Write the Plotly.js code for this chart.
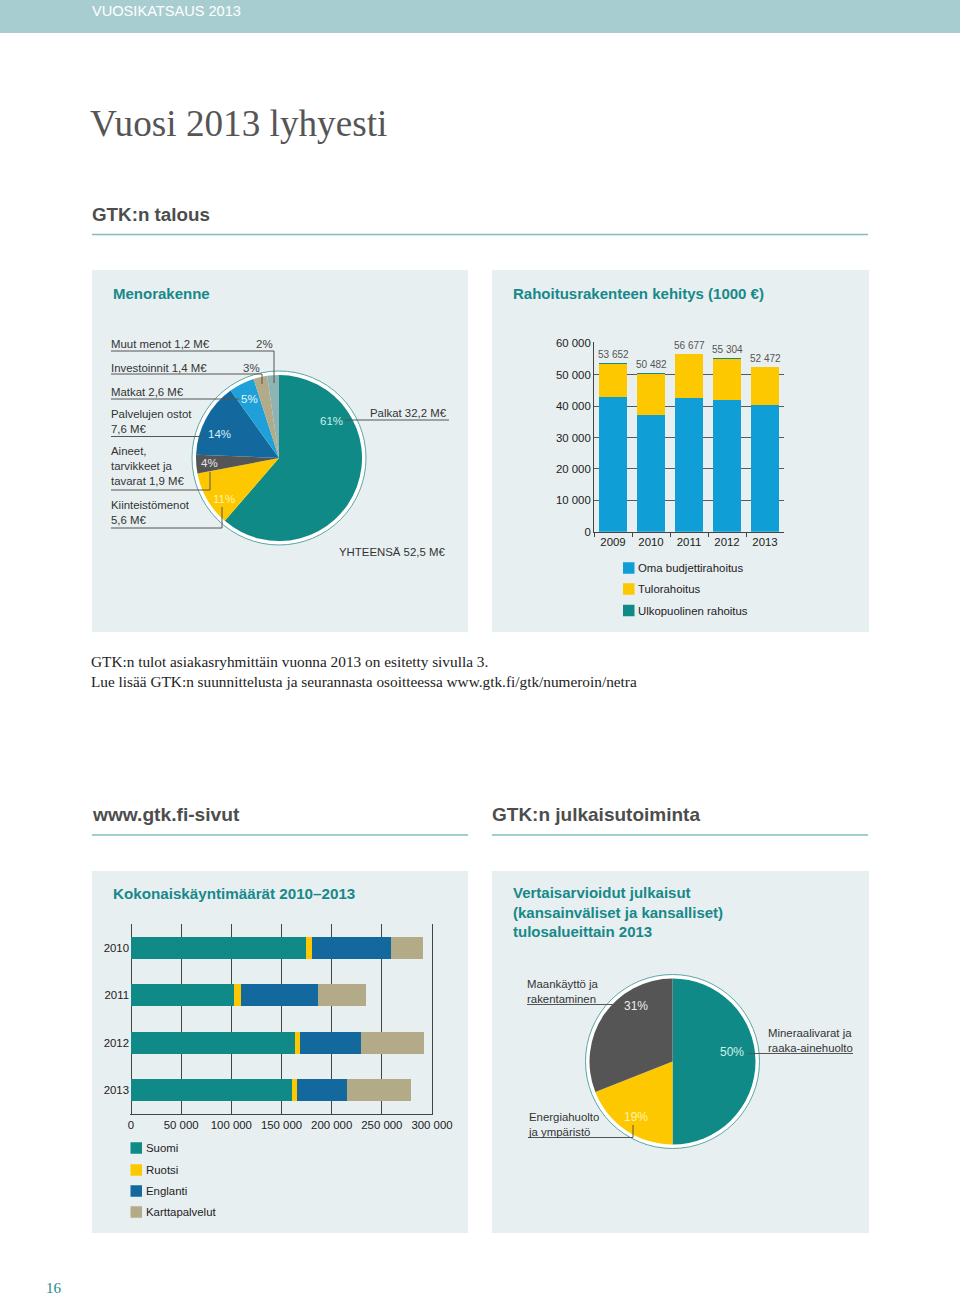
<!DOCTYPE html>
<html><head><meta charset="utf-8">
<script src="https://cdn.plot.ly/plotly-3.0.1.min.js"></script>
<style>html,body{margin:0;padding:0;background:#fff}#chart{width:960px;height:1295px}</style>
</head><body><div id="chart"></div>
<script>
// ---------- DATA ----------
const years1 = ['2009', '2010', '2011', '2012', '2013'];
const omaBudjetti = [42800, 37050, 42450, 41950, 40350];
const tulorahoitus = [10550, 13280, 14050, 13150, 11970];
const ulkopuolinen = [302, 152, 177, 204, 152];
const totals1 = [53652, 50482, 56677, 55304, 52472];
const series1Names = ['Oma budjettirahoitus', 'Tulorahoitus', 'Ulkopuolinen rahoitus'];

const years2 = ['2010', '2011', '2012', '2013'];
const suomi = [174000, 103000, 163800, 160800];
const ruotsi = [6500, 6300, 4650, 4300];
const englanti = [79000, 76700, 61100, 50200];
const karttapalvelut = [31500, 48200, 62500, 63500];
const series2Names = ['Suomi', 'Ruotsi', 'Englanti', 'Karttapalvelut'];

const menoLabels = ['Palkat 32,2 M€', 'Kiinteistömenot<br>5,6 M€', 'Aineet,<br>tarvikkeet ja<br>tavarat 1,9 M€',
  'Palvelujen ostot<br>7,6 M€', 'Matkat 2,6 M€', 'Investoinnit 1,4 M€', 'Muut menot 1,2 M€'];
const menoValues = [32.2, 5.6, 1.9, 7.6, 2.6, 1.4, 1.2];
const menoPct = ['61%', '11%', '4%', '14%', '5%', '3%', '2%'];
const menoTotal = 'YHTEENSÄ 52,5 M€';

const julkLabels = ['Mineraalivarat ja<br>raaka-ainehuolto', 'Energiahuolto<br>ja ympäristö', 'Maankäyttö ja<br>rakentaminen'];
const julkValues = [50, 19, 31];
const julkPct = ['50%', '19%', '31%'];

// ---------- STYLE ----------
const W = 960, H = 1295;
const X = p => p / W;
const Y = p => 1 - p / H;
const TEAL = '#0f8a86', YEL = '#fdc800', BLUE = '#0f9fd6', DBLUE = '#13699d',
      LBLUE = '#1fa0d8', GRAY = '#555555', TAN = '#b3ab88', MUUT = '#8db3b5';
const TITLE_TEAL = '#17898a';
const SANS = 'Liberation Sans, Arial, sans-serif';
const SERIF = 'Liberation Serif, Times New Roman, serif';
const fmt = n => String(n).replace(/\B(?=(\d{3})+(?!\d))/g, ' ');

const traces = [];
// Chart 1: Rahoitusrakenne
const c1 = [omaBudjetti, tulorahoitus, ulkopuolinen];
const c1col = [BLUE, YEL, TEAL];
c1.forEach((v, i) => traces.push({
  type: 'bar', x: years1, y: v, name: series1Names[i], marker: {color: c1col[i]},
  xaxis: 'x', yaxis: 'y', showlegend: false
}));
// Chart 2: Kokonaiskäyntimäärät
const c2 = [suomi, ruotsi, englanti, karttapalvelut];
const c2col = [TEAL, YEL, DBLUE, TAN];
c2.forEach((v, i) => traces.push({
  type: 'bar', orientation: 'h', x: v, y: years2, name: series2Names[i], marker: {color: c2col[i]},
  xaxis: 'x2', yaxis: 'y2', showlegend: false, width: 0.47
}));
// Pie 1
const r = 83;
traces.push({
  type: 'pie', labels: menoLabels, values: menoValues, sort: false, direction: 'clockwise', rotation: 0,
  marker: {colors: [TEAL, YEL, GRAY, DBLUE, LBLUE, TAN, MUUT], line: {width: 0}},
  textinfo: 'none', showlegend: false,
  domain: {x: [X(279 - r), X(279 + r)], y: [Y(458 + r), Y(458 - r)]}
});
// Pie 2
traces.push({
  type: 'pie', labels: julkLabels, values: julkValues, sort: false, direction: 'clockwise', rotation: 0,
  marker: {colors: [TEAL, YEL, GRAY], line: {width: 0}},
  textinfo: 'none', showlegend: false,
  domain: {x: [X(672.5 - r), X(672.5 + r)], y: [Y(1061.5 + r), Y(1061.5 - r)]}
});

// ---------- SHAPES ----------
const shapes = [];
const rect = (x0, y0, x1, y1, c) => shapes.push({type: 'rect', xref: 'paper', yref: 'paper', layer: 'below',
  x0: X(x0), x1: X(x1), y0: Y(y0), y1: Y(y1), fillcolor: c, line: {width: 0}});
const line = (x0, y0, x1, y1, c, w) => shapes.push({type: 'line', xref: 'paper', yref: 'paper',
  x0: X(x0), x1: X(x1), y0: Y(y0), y1: Y(y1), line: {color: c, width: w}});
const circ = (cx, cy, rr) => shapes.push({type: 'circle', xref: 'paper', yref: 'paper', layer: 'below',
  x0: X(cx - rr), x1: X(cx + rr), y0: Y(cy + rr), y1: Y(cy - rr), fillcolor: '#ffffff', line: {color: '#5ea5a6', width: 1}});

rect(0, 0, 960, 33, '#a8cdd1');
const PBG = '#e8eff1';
rect(92, 270, 468, 632, PBG);
rect(492, 270, 869, 632, PBG);
rect(92, 871, 468, 1233, PBG);
rect(492, 871, 869, 1233, PBG);
const RULE = '#86bcbe';
line(92, 234.5, 868, 234.5, RULE, 1.5);
line(92, 835, 468, 835, RULE, 1.5);
line(492, 835, 868, 835, RULE, 1.5);
circ(279, 458, 87);
circ(672.5, 1061.5, 87);

// leader lines pie 1
const LC = '#555';
line(111, 351, 274, 351, LC, 1); line(274, 351, 274, 383, LC, 1);
line(111, 374, 262, 374, LC, 1); line(262, 374, 262, 384, LC, 1);
line(111, 399, 239, 399, LC, 1);
line(111, 436.5, 204, 436.5, LC, 1);
line(111, 490, 210, 490, LC, 1); line(210, 490, 210, 472, LC, 1);
line(111, 528, 222, 528, LC, 1); line(222, 528, 222, 507, LC, 1);
line(345, 420, 449, 420, LC, 1);
// leader lines pie 2
line(527, 1004.5, 621, 1004.5, LC, 1);
line(748, 1053.5, 853, 1053.5, LC, 1);
line(528, 1137.5, 633, 1137.5, LC, 1); line(633, 1137.5, 633, 1125, LC, 1);

// manual legends
const legSq = (x, y, c) => shapes.push({type: 'rect', xref: 'paper', yref: 'paper',
  x0: X(x), x1: X(x + 11.5), y0: Y(y + 5.75), y1: Y(y - 5.75), fillcolor: c, line: {width: 0}});
const leg1Y = [568, 589, 610.5];
leg1Y.forEach((y, i) => legSq(623, y, c1col[i]));
const leg2Y = [1148, 1170, 1191, 1212];
leg2Y.forEach((y, i) => legSq(130.5, y, c2col[i]));

// ---------- ANNOTATIONS ----------
const ann = [];
const txt = (t, x, y, o = {}) => ann.push(Object.assign({
  text: t, xref: 'paper', yref: 'paper', x: X(x), y: Y(y), xanchor: 'left', yanchor: 'middle',
  showarrow: false, align: 'left'
}, o, {font: Object.assign({family: SANS, size: 11.4, color: '#333'}, o.font || {})}));

txt('VUOSIKATSAUS 2013', 90, 11, {font: {size: 14.6, color: '#ffffff'}});
txt('Vuosi 2013 lyhyesti', 88, 124, {font: {family: SERIF, size: 37.2, color: '#555'}});
txt('<b>GTK:n talous</b>', 90, 214, {font: {size: 18.8, color: '#4d4d4d'}});
txt('<b>Menorakenne</b>', 111, 293, {font: {size: 15, color: TITLE_TEAL}});
txt('<b>Rahoitusrakenteen kehitys (1000 €)</b>', 511, 293, {font: {size: 15, color: TITLE_TEAL}});
txt('GTK:n tulot asiakasryhmittäin vuonna 2013 on esitetty sivulla 3.', 89, 661, {font: {family: SERIF, size: 15.3, color: '#222'}});
txt('Lue lisää GTK:n suunnittelusta ja seurannasta osoitteessa www.gtk.fi/gtk/numeroin/netra', 89, 681, {font: {family: SERIF, size: 15.3, color: '#222'}});
txt('<b>www.gtk.fi-sivut</b>', 90, 814, {font: {size: 19.2, color: '#4d4d4d'}});
txt('<b>GTK:n julkaisutoiminta</b>', 490, 814, {font: {size: 19, color: '#4d4d4d'}});
txt('<b>Kokonaiskäyntimäärät 2010–2013</b>', 111, 893, {font: {size: 15.2, color: TITLE_TEAL}});
txt('<b>Vertaisarvioidut julkaisut<br>(kansainväliset ja kansalliset)<br>tulosalueittain 2013</b>', 511, 912, {font: {size: 15, color: TITLE_TEAL}});
txt('16', 44, 1288, {font: {family: SERIF, size: 15, color: '#1a8a88'}});

// pie 1 labels
const menoLabPos = [[368, 413], [109, 512.5], [109, 465.5], [109, 421], [109, 392], [109, 368], [109, 344]];
menoLabels.forEach((t, i) => txt(t, menoLabPos[i][0], menoLabPos[i][1]));
txt(menoTotal, 447, 552, {xanchor: 'right'});
const menoPctPos = [[331, 421], [224, 499], [209, 463], [219, 434], [249, 399], [251, 368], [264, 344]];
const menoPctCol = ['#cdeeea', '#fff3b0', '#e6e6e6', '#d6ecf7', '#e4f5fc', '#444', '#444'];
menoPct.forEach((t, i) => txt(t, menoPctPos[i][0], menoPctPos[i][1], {xanchor: 'center', font: {size: 11.5, color: menoPctCol[i]}}));

// pie 2 labels
const julkLabPos = [[766, 1040], [526, 1124], [525, 991]];
julkLabels.forEach((t, i) => txt(t, julkLabPos[i][0], julkLabPos[i][1]));
const julkPctPos = [[732, 1052], [636, 1117], [636, 1006]];
const julkPctCol = ['#d4f1ee', '#fff3b0', '#ececec'];
julkPct.forEach((t, i) => txt(t, julkPctPos[i][0], julkPctPos[i][1], {xanchor: 'center', font: {size: 12, color: julkPctCol[i]}}));

// legends text
series1Names.forEach((t, i) => txt(t, 636, leg1Y[i], {font: {color: '#222'}}));
series2Names.forEach((t, i) => txt(t, 144, leg2Y[i], {font: {color: '#222'}}));

// bar totals (x given as category index)
years1.forEach((yr, i) => ann.push({
  text: fmt(totals1[i]), xref: 'x', yref: 'y', x: i, y: totals1[i], yanchor: 'bottom', yshift: 1,
  showarrow: false, font: {family: SANS, size: 10, color: '#555'}
}));

const layout = {
  width: W, height: H, margin: {l: 0, r: 0, t: 0, b: 0},
  paper_bgcolor: '#ffffff', plot_bgcolor: 'rgba(0,0,0,0)',
  separators: ', ', barmode: 'stack', showlegend: false,
  font: {family: SANS, size: 11, color: '#222'},
  xaxis: {domain: [X(594), X(784)], anchor: 'y', type: 'category', categoryorder: 'array', categoryarray: years1,
    range: [-0.5, 4.5], autorange: false, showline: true, linecolor: '#444', linewidth: 1,
    ticks: 'outside', tickson: 'boundaries', ticklen: 4, tickcolor: '#444', showgrid: false, tickangle: 0,
    tickfont: {size: 11.4, color: '#222'}, fixedrange: true},
  yaxis: {domain: [Y(531.7), Y(342.4)], anchor: 'x', range: [0, 60300], autorange: false, dtick: 10000, tickformat: ',d',
    showgrid: true, gridcolor: '#5a5a5a', gridwidth: 1, showline: true, linecolor: '#444', zeroline: false,
    ticks: '', tickfont: {size: 11.4, color: '#222'}, fixedrange: true},
  xaxis2: {domain: [X(130), X(433)], anchor: 'y2', range: [-1000, 301000], autorange: false, dtick: 50000, tickformat: ',d',
    showgrid: true, gridcolor: '#444', gridwidth: 1, zeroline: true, zerolinecolor: '#444', zerolinewidth: 1,
    showline: true, linecolor: '#444', ticks: '', tickangle: 0, tickfont: {size: 11.4, color: '#222'}, fixedrange: true},
  yaxis2: {domain: [Y(1114), Y(924)], anchor: 'x2', type: 'category', categoryorder: 'array', categoryarray: years2,
    range: [3.5, -0.5], autorange: false,
    showgrid: false, showline: false, ticks: '', tickfont: {size: 11.4, color: '#222'}, fixedrange: true},
  bargap: 0.26,
  shapes: shapes, annotations: ann
};

Plotly.newPlot('chart', traces, layout, {displayModeBar: false, staticPlot: true});
</script></body></html>
